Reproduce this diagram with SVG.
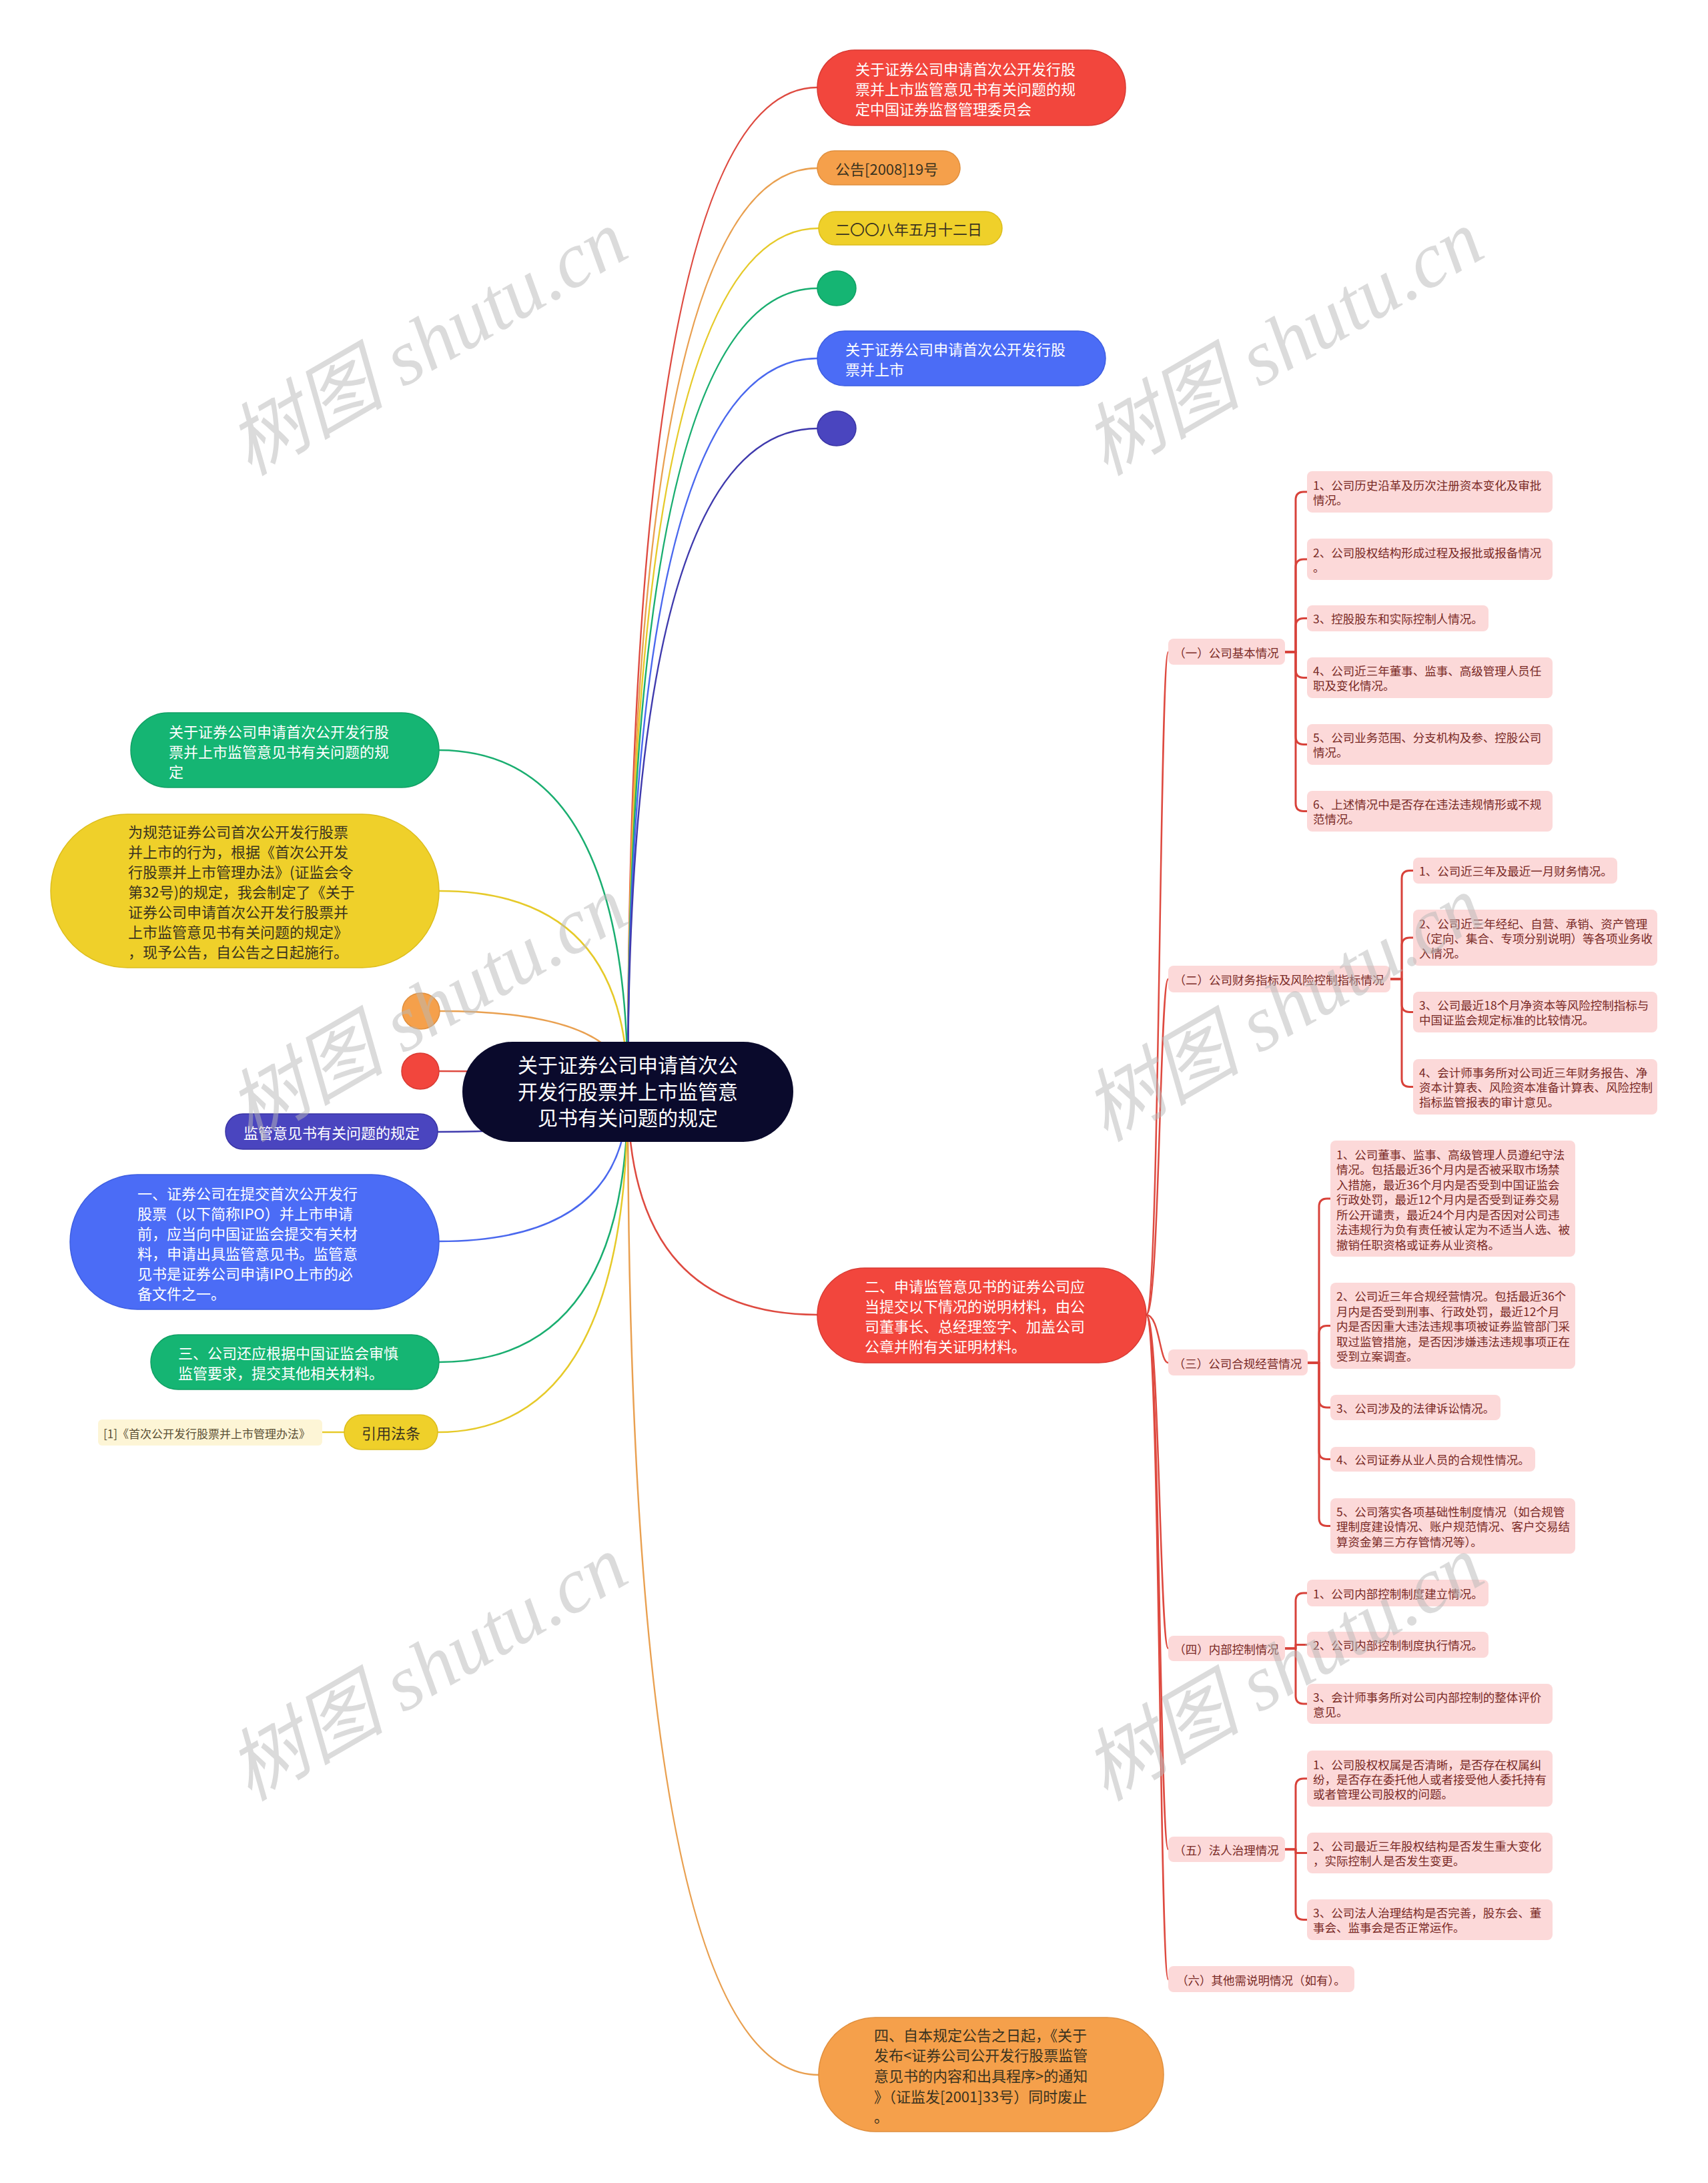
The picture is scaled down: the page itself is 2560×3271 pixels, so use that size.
<svg xmlns="http://www.w3.org/2000/svg" width="2560" height="3271" viewBox="0 0 2560 3271">
<style>
text{font-family:"Noto Sans CJK SC","Noto Sans",sans-serif;dominant-baseline:central}
.w{fill:#fff}
.d{fill:#3a3320}
.f22{font-size:22px}
.f30{font-size:30px}
.p{fill:#fcd9d9}
.pt{fill:#7a2a26;font-size:17.5px}
.c{fill:none;stroke-width:2.5;stroke-linecap:round}
.br{fill:none;stroke:#d8423a;stroke-width:3;stroke-linejoin:round}
.red{stroke:#de4a40}.org{stroke:#e9a050}.yel{stroke:#e6ca2a}.grn{stroke:#1aae70}.blu{stroke:#4a68ee}.ind{stroke:#3f3aad}
.wm{font-family:"Liberation Serif","Noto Sans CJK SC",serif;font-style:italic;font-size:118px;fill:#b8b8b8;opacity:.5}
</style>
<rect width="2560" height="3271" fill="#fff"/>
<g id="connectors">
<path class="c red" d="M941 1636 Q941 131 1225 131"/>
<path class="c org" d="M941 1636 Q941 252 1225 252"/>
<path class="c yel" d="M941 1636 Q941 342 1227 342"/>
<path class="c grn" d="M941 1636 Q941 432 1225 432"/>
<path class="c blu" d="M941 1636 Q941 537 1225 537"/>
<path class="c ind" d="M941 1636 Q941 642 1225 642"/>
<path class="c grn" d="M941 1636 Q941 1124 658 1124"/>
<path class="c yel" d="M941 1636 Q941 1335 658 1335"/>
<path class="c org" d="M941 1636 Q941 1515 658 1515"/>
<path class="c red" d="M941 1636 Q941 1605 658 1605"/>
<path class="c ind" d="M941 1636 Q941 1696 656 1696"/>
<path class="c blu" d="M941 1636 Q941 1860 658 1860"/>
<path class="c grn" d="M941 1636 Q941 2041 658 2041"/>
<path class="c yel" d="M941 1636 Q941 2146 656 2146"/>
<path class="c yel" d="M483 2146 H516"/>
<path class="c red" d="M941 1636 Q941 1970 1225 1970"/>
<path class="c org" d="M941 1636 Q941 3109 1227 3109"/>
<path class="c red" d="M1718 1970 C1738 1970 1738 977 1751 977"/>
<path class="c red" d="M1718 1970 C1738 1970 1738 1467 1751 1467"/>
<path class="c red" d="M1718 1970 C1738 1970 1738 2042 1751 2042"/>
<path class="c red" d="M1718 1970 C1738 1970 1738 2470 1751 2470"/>
<path class="c red" d="M1718 1970 C1738 1970 1738 2771 1751 2771"/>
<path class="c red" d="M1718 1970 C1738 1970 1738 2966 1751 2966"/>
<path class="br" d="M1926 977 H1942 V749 Q1942 737 1954 737 H1959"/>
<path class="br" d="M1926 977 H1942 V850 Q1942 838 1954 838 H1959"/>
<path class="br" d="M1926 977 H1942 V938.5 Q1942 926.5 1954 926.5 H1959"/>
<path class="br" d="M1926 977 H1942 V1003.5 Q1942 1015.5 1954 1015.5 H1959"/>
<path class="br" d="M1926 977 H1942 V1103.5 Q1942 1115.5 1954 1115.5 H1959"/>
<path class="br" d="M1926 977 H1942 V1203.5 Q1942 1215.5 1954 1215.5 H1959"/>
<path class="br" d="M2084 1467 H2101 V1316.5 Q2101 1304.5 2113 1304.5 H2118"/>
<path class="br" d="M2084 1467 H2101 V1417 Q2101 1405 2113 1405 H2118"/>
<path class="br" d="M2084 1467 H2101 V1504.5 Q2101 1516.5 2113 1516.5 H2118"/>
<path class="br" d="M2084 1467 H2101 V1616.5 Q2101 1628.5 2113 1628.5 H2118"/>
<path class="br" d="M1960 2042 H1977 V1808 Q1977 1796 1989 1796 H1994"/>
<path class="br" d="M1960 2042 H1977 V1998.5 Q1977 1986.5 1989 1986.5 H1994"/>
<path class="br" d="M1960 2042 H1977 V2097 Q1977 2109 1989 2109 H1994"/>
<path class="br" d="M1960 2042 H1977 V2174.5 Q1977 2186.5 1989 2186.5 H1994"/>
<path class="br" d="M1960 2042 H1977 V2274.5 Q1977 2286.5 1989 2286.5 H1994"/>
<path class="br" d="M1926 2470 H1942 V2399 Q1942 2387 1954 2387 H1959"/>
<path class="br" d="M1926 2470 H1942 V2464.5 H1959"/>
<path class="br" d="M1926 2470 H1942 V2541 Q1942 2553 1954 2553 H1959"/>
<path class="br" d="M1926 2771 H1942 V2677 Q1942 2665 1954 2665 H1959"/>
<path class="br" d="M1926 2771 H1942 V2776.5 H1959"/>
<path class="br" d="M1926 2771 H1942 V2864.5 Q1942 2876.5 1954 2876.5 H1959"/>
</g>
<g id="root">
<rect x="693" y="1561" width="496" height="150" rx="75" fill="#0a0a2c"/>
<text class="w f30" text-anchor="middle" x="941" y="1594">关于证券公司申请首次公</text>
<text class="w f30" text-anchor="middle" x="941" y="1634">开发行股票并上市监管意</text>
<text class="w f30" text-anchor="middle" x="941" y="1673">见书有关问题的规定</text>
</g>
<g id="r1">
<rect x="1225" y="75" width="462" height="113" rx="56" fill="#f2463d" stroke="#d83a33" stroke-width="1.5"/>
<text class="w f22" x="1282" y="102">关于证券公司申请首次公开发行股</text>
<text class="w f22" x="1282" y="132">票并上市监管意见书有关问题的规</text>
<text class="w f22" x="1282" y="162">定中国证券监督管理委员会</text>
</g>
<g id="r2">
<rect x="1225" y="226" width="214" height="51" rx="25.5" fill="#f5a04b" stroke="#e08f3e" stroke-width="1.5"/>
<text class="d f22" x="1252" y="252">公告[2008]19号</text>
</g>
<g id="r3">
<rect x="1227" y="317" width="275" height="50" rx="25" fill="#efd02a" stroke="#dcbd1c" stroke-width="1.5"/>
<text class="d f22" x="1252" y="342">二〇〇八年五月十二日</text>
</g>
<g id="r4"><ellipse cx="1254" cy="432" rx="29" ry="26" fill="#15b573" stroke="#10a064" stroke-width="1.5"/></g>
<g id="r5">
<rect x="1225" y="496" width="432" height="82" rx="41" fill="#4b6cf6" stroke="#3d5de0" stroke-width="1.5"/>
<text class="w f22" x="1267" y="522">关于证券公司申请首次公开发行股</text>
<text class="w f22" x="1267" y="552">票并上市</text>
</g>
<g id="r6"><ellipse cx="1254" cy="642" rx="29" ry="26" fill="#4a45bf" stroke="#3a35a5" stroke-width="1.5"/></g>
<g id="l1">
<rect x="196" y="1068" width="462" height="112" rx="56" fill="#15b573" stroke="#10a064" stroke-width="1.5"/>
<text class="w f22" x="253" y="1095">关于证券公司申请首次公开发行股</text>
<text class="w f22" x="253" y="1125">票并上市监管意见书有关问题的规</text>
<text class="w f22" x="253" y="1155">定</text>
</g>
<g id="l2">
<rect x="76" y="1220" width="582" height="230" rx="115" fill="#efd02a" stroke="#dcbd1c" stroke-width="1.5"/>
<text class="d f22" x="192" y="1245">为规范证券公司首次公开发行股票</text>
<text class="d f22" x="192" y="1275">并上市的行为，根据《首次公开发</text>
<text class="d f22" x="192" y="1305">行股票并上市管理办法》(证监会令</text>
<text class="d f22" x="192" y="1335">第32号)的规定，我会制定了《关于</text>
<text class="d f22" x="192" y="1365">证券公司申请首次公开发行股票并</text>
<text class="d f22" x="192" y="1395">上市监管意见书有关问题的规定》</text>
<text class="d f22" x="192" y="1425">，现予公告，自公告之日起施行。</text>
</g>
<g id="l3"><ellipse cx="631" cy="1515" rx="28" ry="27" fill="#f5a04b" stroke="#e08f3e" stroke-width="1.5"/></g>
<g id="l4"><ellipse cx="630" cy="1605" rx="28" ry="27" fill="#f2463d" stroke="#d83a33" stroke-width="1.5"/></g>
<g id="l5">
<rect x="338" y="1669" width="318" height="53" rx="26" fill="#4a45bf" stroke="#3a35a5" stroke-width="1.5"/>
<text class="w f22" text-anchor="middle" x="497" y="1696">监管意见书有关问题的规定</text>
</g>
<g id="l6">
<rect x="105" y="1760" width="553" height="202" rx="101" fill="#4b6cf6" stroke="#3d5de0" stroke-width="1.5"/>
<text class="w f22" x="206" y="1787">一、证券公司在提交首次公开发行</text>
<text class="w f22" x="206" y="1817">股票（以下简称IPO）并上市申请</text>
<text class="w f22" x="206" y="1847">前，应当向中国证监会提交有关材</text>
<text class="w f22" x="206" y="1877">料，申请出具监管意见书。监管意</text>
<text class="w f22" x="206" y="1907">见书是证券公司申请IPO上市的必</text>
<text class="w f22" x="206" y="1937">备文件之一。</text>
</g>
<g id="l7">
<rect x="226" y="2000" width="432" height="82" rx="41" fill="#15b573" stroke="#10a064" stroke-width="1.5"/>
<text class="w f22" x="267" y="2026">三、公司还应根据中国证监会审慎</text>
<text class="w f22" x="267" y="2056">监管要求，提交其他相关材料。</text>
</g>
<g id="l8">
<rect x="516" y="2120" width="140" height="52" rx="26" fill="#efd02a" stroke="#dcbd1c" stroke-width="1.5"/>
<text class="d f22" text-anchor="middle" x="586" y="2146">引用法条</text>
</g>
<g id="l9">
<rect x="147" y="2127" width="336" height="39" rx="6" fill="#fdf5d6"/>
<text x="155" y="2147" font-size="17" fill="#5b5035">[1]《首次公开发行股票并上市管理办法》</text>
</g>
<g id="n2">
<rect x="1225" y="1900" width="493" height="142" rx="71" fill="#f2463d" stroke="#d83a33" stroke-width="1.5"/>
<text class="w f22" x="1296" y="1926">二、申请监管意见书的证券公司应</text>
<text class="w f22" x="1296" y="1956">当提交以下情况的说明材料，由公</text>
<text class="w f22" x="1296" y="1986">司董事长、总经理签字、加盖公司</text>
<text class="w f22" x="1296" y="2016">公章并附有关证明材料。</text>
</g>
<g id="n4">
<rect x="1227" y="3023" width="517" height="171" rx="85" fill="#f5a04b" stroke="#e08f3e" stroke-width="1.5"/>
<text class="d f22" x="1310" y="3048">四、自本规定公告之日起，《关于</text>
<text class="d f22" x="1310" y="3078">发布&lt;证券公司公开发行股票监管</text>
<text class="d f22" x="1310" y="3109">意见书的内容和出具程序&gt;的通知</text>
<text class="d f22" x="1310" y="3140">》（证监发[2001]33号）同时废止</text>
<text class="d f22" x="1310" y="3170">。</text>
</g>
<g id="s1">
<rect class="p" x="1751" y="957" width="175" height="39" rx="8"/>
<text class="pt" text-anchor="middle" x="1838" y="977">（一）公司基本情况</text>
</g>
<g id="s1-1"><rect class="p" x="1959" y="706" width="368" height="62" rx="8"/>
<text class="pt" x="1968" y="726">1、公司历史沿革及历次注册资本变化及审批</text>
<text class="pt" x="1968" y="748">情况。</text></g>
<g id="s1-2"><rect class="p" x="1959" y="807" width="368" height="62" rx="8"/>
<text class="pt" x="1968" y="827">2、公司股权结构形成过程及报批或报备情况</text>
<text class="pt" x="1968" y="849">。</text></g>
<g id="s1-3"><rect class="p" x="1959" y="907" width="272" height="39" rx="8"/>
<text class="pt" x="1968" y="926.5">3、控股股东和实际控制人情况。</text></g>
<g id="s1-4"><rect class="p" x="1959" y="985" width="368" height="61" rx="8"/>
<text class="pt" x="1968" y="1004.5">4、公司近三年董事、监事、高级管理人员任</text>
<text class="pt" x="1968" y="1026.5">职及变化情况。</text></g>
<g id="s1-5"><rect class="p" x="1959" y="1085" width="368" height="61" rx="8"/>
<text class="pt" x="1968" y="1104.5">5、公司业务范围、分支机构及参、控股公司</text>
<text class="pt" x="1968" y="1126.5">情况。</text></g>
<g id="s1-6"><rect class="p" x="1959" y="1185" width="368" height="61" rx="8"/>
<text class="pt" x="1968" y="1204.5">6、上述情况中是否存在违法违规情形或不规</text>
<text class="pt" x="1968" y="1226.5">范情况。</text></g>
<g id="s2">
<rect class="p" x="1751" y="1447" width="333" height="40" rx="8"/>
<text class="pt" text-anchor="middle" x="1917" y="1467">（二）公司财务指标及风险控制指标情况</text>
</g>
<g id="s2-1"><rect class="p" x="2118" y="1285" width="306" height="39" rx="8"/>
<text class="pt" x="2127" y="1304.5">1、公司近三年及最近一月财务情况。</text></g>
<g id="s2-2"><rect class="p" x="2118" y="1363" width="366" height="84" rx="8"/>
<text class="pt" x="2127" y="1383">2、公司近三年经纪、自营、承销、资产管理</text>
<text class="pt" x="2127" y="1405">（定向、集合、专项分别说明）等各项业务收</text>
<text class="pt" x="2127" y="1427">入情况。</text></g>
<g id="s2-3"><rect class="p" x="2118" y="1486" width="366" height="61" rx="8"/>
<text class="pt" x="2127" y="1505.5">3、公司最近18个月净资本等风险控制指标与</text>
<text class="pt" x="2127" y="1527.5">中国证监会规定标准的比较情况。</text></g>
<g id="s2-4"><rect class="p" x="2118" y="1587" width="366" height="83" rx="8"/>
<text class="pt" x="2127" y="1606.5">4、会计师事务所对公司近三年财务报告、净</text>
<text class="pt" x="2127" y="1628.5">资本计算表、风险资本准备计算表、风险控制</text>
<text class="pt" x="2127" y="1650.5">指标监管报表的审计意见。</text></g>
<g id="s3">
<rect class="p" x="1751" y="2022" width="209" height="39" rx="8"/>
<text class="pt" text-anchor="middle" x="1855" y="2042">（三）公司合规经营情况</text>
</g>
<g id="s3-1"><rect class="p" x="1994" y="1709" width="367" height="174" rx="8"/>
<text class="pt" x="2003" y="1729">1、公司董事、监事、高级管理人员遵纪守法</text>
<text class="pt" x="2003" y="1751.5">情况。包括最近36个月内是否被采取市场禁</text>
<text class="pt" x="2003" y="1774">入措施，最近36个月内是否受到中国证监会</text>
<text class="pt" x="2003" y="1796.5">行政处罚，最近12个月内是否受到证券交易</text>
<text class="pt" x="2003" y="1819">所公开谴责，最近24个月内是否因对公司违</text>
<text class="pt" x="2003" y="1841.5">法违规行为负有责任被认定为不适当人选、被</text>
<text class="pt" x="2003" y="1864">撤销任职资格或证券从业资格。</text></g>
<g id="s3-2"><rect class="p" x="1994" y="1922" width="367" height="129" rx="8"/>
<text class="pt" x="2003" y="1941.5">2、公司近三年合规经营情况。包括最近36个</text>
<text class="pt" x="2003" y="1964">月内是否受到刑事、行政处罚，最近12个月</text>
<text class="pt" x="2003" y="1986.5">内是否因重大违法违规事项被证券监管部门采</text>
<text class="pt" x="2003" y="2009">取过监管措施，是否因涉嫌违法违规事项正在</text>
<text class="pt" x="2003" y="2031.5">受到立案调查。</text></g>
<g id="s3-3"><rect class="p" x="1994" y="2090" width="255" height="38" rx="8"/>
<text class="pt" x="2003" y="2109">3、公司涉及的法律诉讼情况。</text></g>
<g id="s3-4"><rect class="p" x="1994" y="2168" width="307" height="37" rx="8"/>
<text class="pt" x="2003" y="2186.5">4、公司证券从业人员的合规性情况。</text></g>
<g id="s3-5"><rect class="p" x="1994" y="2245" width="367" height="83" rx="8"/>
<text class="pt" x="2003" y="2264">5、公司落实各项基础性制度情况（如合规管</text>
<text class="pt" x="2003" y="2286.5">理制度建设情况、账户规范情况、客户交易结</text>
<text class="pt" x="2003" y="2309">算资金第三方存管情况等）。</text></g>
<g id="s4">
<rect class="p" x="1751" y="2451" width="175" height="38" rx="8"/>
<text class="pt" text-anchor="middle" x="1838" y="2470">（四）内部控制情况</text>
</g>
<g id="s4-1"><rect class="p" x="1959" y="2367" width="272" height="40" rx="8"/>
<text class="pt" x="1968" y="2387">1、公司内部控制制度建立情况。</text></g>
<g id="s4-2"><rect class="p" x="1959" y="2445" width="272" height="39" rx="8"/>
<text class="pt" x="1968" y="2464.5">2、公司内部控制制度执行情况。</text></g>
<g id="s4-3"><rect class="p" x="1959" y="2523" width="368" height="60" rx="8"/>
<text class="pt" x="1968" y="2542">3、会计师事务所对公司内部控制的整体评价</text>
<text class="pt" x="1968" y="2564">意见。</text></g>
<g id="s5">
<rect class="p" x="1751" y="2752" width="175" height="38" rx="8"/>
<text class="pt" text-anchor="middle" x="1838" y="2771">（五）法人治理情况</text>
</g>
<g id="s5-1"><rect class="p" x="1959" y="2623" width="368" height="84" rx="8"/>
<text class="pt" x="1968" y="2643">1、公司股权权属是否清晰，是否存在权属纠</text>
<text class="pt" x="1968" y="2665">纷，是否存在委托他人或者接受他人委托持有</text>
<text class="pt" x="1968" y="2687">或者管理公司股权的问题。</text></g>
<g id="s5-2"><rect class="p" x="1959" y="2746" width="368" height="61" rx="8"/>
<text class="pt" x="1968" y="2765.5">2、公司最近三年股权结构是否发生重大变化</text>
<text class="pt" x="1968" y="2787.5">，实际控制人是否发生变更。</text></g>
<g id="s5-3"><rect class="p" x="1959" y="2846" width="368" height="61" rx="8"/>
<text class="pt" x="1968" y="2865.5">3、公司法人治理结构是否完善，股东会、董</text>
<text class="pt" x="1968" y="2887.5">事会、监事会是否正常运作。</text></g>
<g id="s6">
<rect class="p" x="1751" y="2946" width="279" height="39" rx="8"/>
<text class="pt" text-anchor="middle" x="1890" y="2966">（六）其他需说明情况（如有）。</text>
</g>
<g id="watermarks">
<text class="wm" text-anchor="middle" transform="translate(641 514) rotate(-30)">树图 shutu.cn</text>
<text class="wm" text-anchor="middle" transform="translate(1924 514) rotate(-30)">树图 shutu.cn</text>
<text class="wm" text-anchor="middle" transform="translate(641 1512) rotate(-30)">树图 shutu.cn</text>
<text class="wm" text-anchor="middle" transform="translate(1924 1512) rotate(-30)">树图 shutu.cn</text>
<text class="wm" text-anchor="middle" transform="translate(641 2500) rotate(-30)">树图 shutu.cn</text>
<text class="wm" text-anchor="middle" transform="translate(1924 2500) rotate(-30)">树图 shutu.cn</text>
</g>
</svg>
